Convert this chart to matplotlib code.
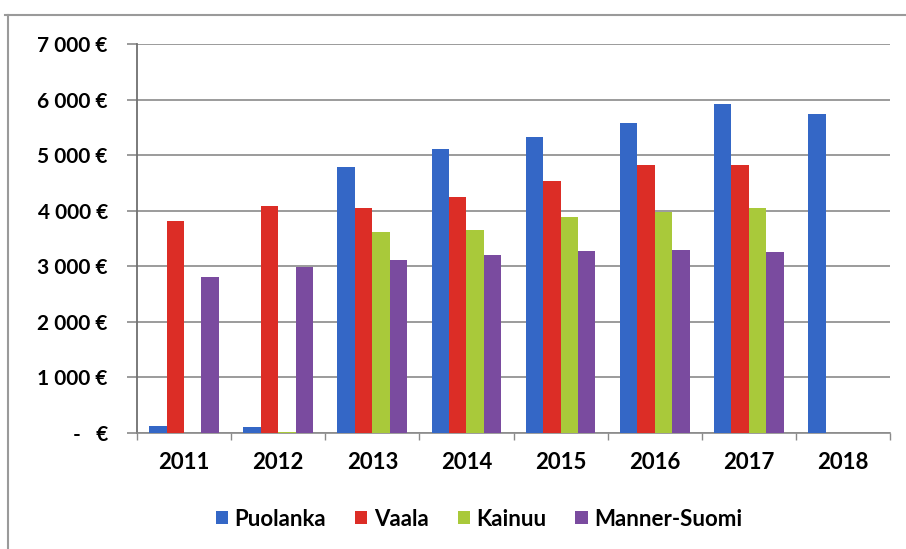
import matplotlib.pyplot as plt
import numpy as np
from matplotlib.lines import Line2D
from matplotlib.ticker import FixedLocator

plt.rcParams['font.family'] = ['Lato', 'DejaVu Sans']

years = ['2011', '2012', '2013', '2014', '2015', '2016', '2017', '2018']
puolanka = [120, 100, 4780, 5110, 5320, 5580, 5920, 5740]
vaala = [3820, 4090, 4050, 4240, 4540, 4815, 4820, 0]
kainuu = [0, 20, 3610, 3660, 3890, 3980, 4040, 0]
manner_suomi = [2810, 2990, 3110, 3200, 3275, 3285, 3260, 0]

series = [('Puolanka', puolanka, '#3467C6'),
          ('Vaala', vaala, '#DC2D26'),
          ('Kainuu', kainuu, '#A9C93A'),
          ('Manner-Suomi', manner_suomi, '#7A4B9F')]

yticks = [0, 1000, 2000, 3000, 4000, 5000, 6000, 7000]
ylabels = ['-   €', '1 000 €', '2 000 €', '3 000 €', '4 000 €', '5 000 €', '6 000 €', '7 000 €']

fig = plt.figure(figsize=(9.06, 5.49), dpi=100)
ax = fig.add_axes([137/906, 1-433/549, (890-137)/906, (433-44)/549])

x = np.arange(len(years))
w = 0.185
for i, (name, vals, col) in enumerate(series):
    ax.bar(x + (i - 1.5)*w, vals, width=w, color=col, label=name, zorder=3)

ax.set_xlim(-0.5, len(years) - 0.5)
ax.set_ylim(0, 7000)
ax.set_yticks(yticks)
ax.set_yticklabels(ylabels, fontsize=15, fontweight='bold')
ax.yaxis.grid(True, color='#8a8a8a', lw=1.2, zorder=0)
ax.tick_params(axis='y', length=7, width=1.2, color='#8a8a8a', pad=14)

ax.set_xticks(x)
ax.set_xticklabels(years, fontsize=16, fontweight='bold')
ax.tick_params(axis='x', which='major', length=0, pad=14)
ax.xaxis.set_minor_locator(FixedLocator(np.arange(-0.5, len(years), 1.0)))
ax.tick_params(axis='x', which='minor', length=5, width=1, color='#8a8a8a')

for s in ['top', 'right']:
    ax.spines[s].set_visible(False)
ax.spines['left'].set_color('#707070')
ax.spines['left'].set_linewidth(1.3)
ax.spines['bottom'].set_color('#8a8a8a')
ax.spines['bottom'].set_linewidth(1.2)

# outer chart frame (scan edge)
fig.add_artist(Line2D([5/906, 1], [1-15/549, 1-15/549], color='#9a9a9a', lw=1.5))
fig.add_artist(Line2D([8/906, 8/906], [0, 1-15/549], color='#9a9a9a', lw=1.5))

leg = ax.legend(loc='center', bbox_to_anchor=(479/906, 1-519/549), bbox_transform=fig.transFigure,
                ncol=4, frameon=False, prop={'size': 16, 'weight': 'bold'},
                handlelength=0.55, handleheight=0.55, handletextpad=0.3, columnspacing=1.3)

fig.savefig('out.png', dpi=100)
